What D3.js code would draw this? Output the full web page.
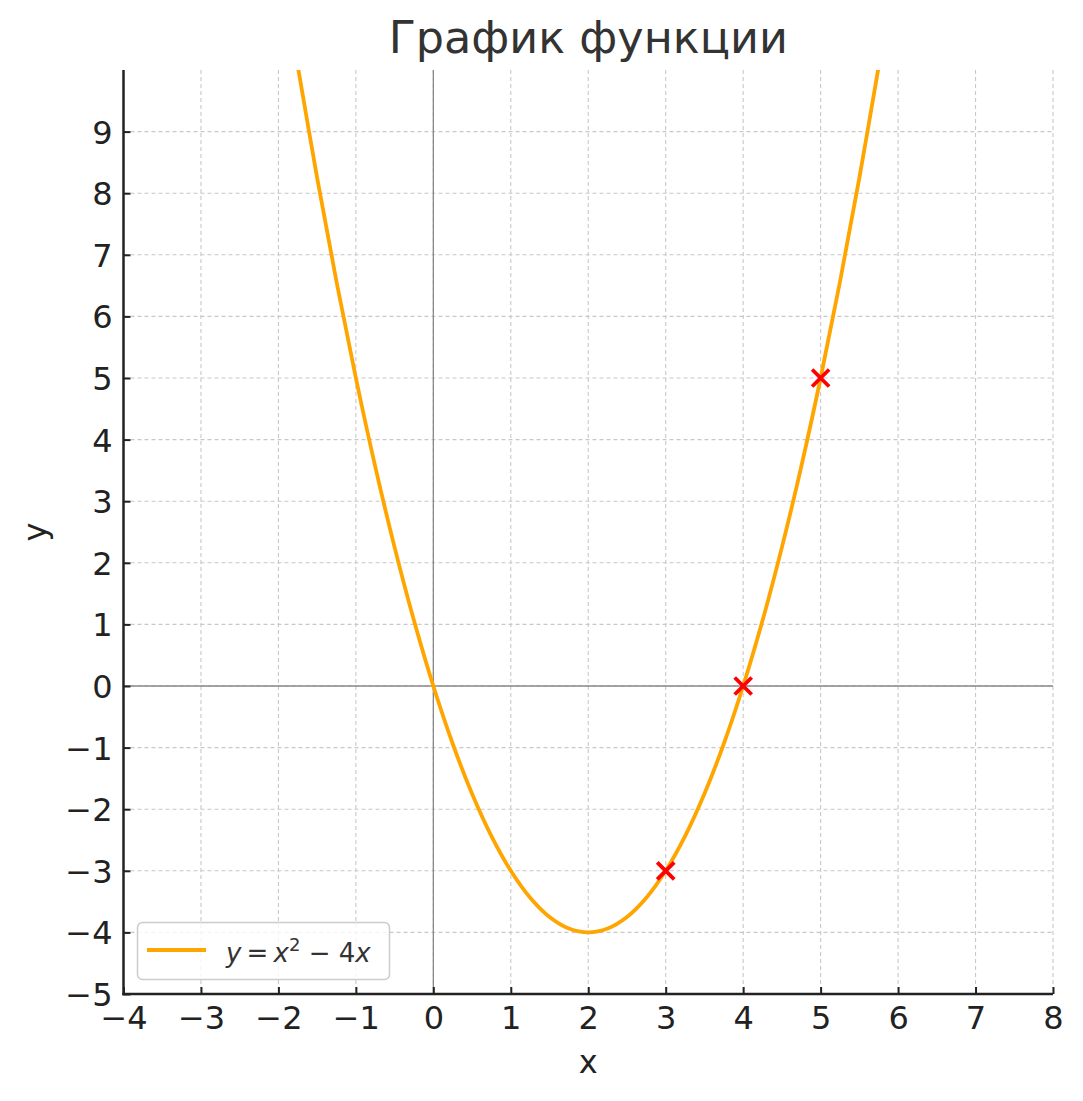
<!DOCTYPE html>
<html><head><meta charset="utf-8">
<script src="https://cdn.jsdelivr.net/npm/d3@7"></script>
<style>body{margin:0;background:#fff}svg{display:block}</style>
</head><body>
<svg id="c" width="1083" height="1101"></svg>
<script>
const title = "График функции";
const xLabel = "x", yLabel = "y";
const xTicks = [-4,-3,-2,-1,0,1,2,3,4,5,6,7,8];
const yTicks = [-5,-4,-3,-2,-1,0,1,2,3,4,5,6,7,8,9];
const xDomain = [-4, 8];
const yDomain = [-5, 10];
const curveX = [-1.75,-1.5,-1.25,-1,-0.75,-0.5,-0.25,0,0.25,0.5,0.75,1,1.25,1.5,1.75,2,2.25,2.5,2.75,3,3.25,3.5,3.75,4,4.25,4.5,4.75,5,5.25,5.5,5.75];
const curveY = [10.0625,8.25,6.5625,5,3.5625,2.25,1.0625,0,-0.9375,-1.75,-2.4375,-3,-3.4375,-3.75,-3.9375,-4,-3.9375,-3.75,-3.4375,-3,-2.4375,-1.75,-0.9375,0,1.0625,2.25,3.5625,5,6.5625,8.25,10.0625];
const pointX = [3, 4, 5];
const pointY = [-3, 0, 5];

const svg = d3.select("#c");
const L = 123.5, R = 1053, T = 70, B = 994;
const x = d3.scaleLinear().domain(xDomain).range([L, R]);
const y = d3.scaleLinear().domain(yDomain).range([B, T]);
const fmt = d => d < 0 ? "\u2212" + Math.abs(d) : String(d);

// grid
const g = svg.append("g");
g.selectAll(".gx").data(xTicks).join("line")
  .attr("x1", d => x(d)).attr("x2", d => x(d)).attr("y1", T).attr("y2", B)
  .attr("stroke", "#c8c8c8").attr("stroke-width", 1.1).attr("stroke-dasharray", "4,3");
g.selectAll(".gy").data(yTicks).join("line")
  .attr("y1", d => y(d)).attr("y2", d => y(d)).attr("x1", L).attr("x2", R)
  .attr("stroke", "#c8c8c8").attr("stroke-width", 1.1).attr("stroke-dasharray", "4,3");

// zero lines
svg.append("line").attr("x1", x(0)).attr("x2", x(0)).attr("y1", T).attr("y2", B)
  .attr("stroke", "#888").attr("stroke-width", 1.3);
svg.append("line").attr("y1", y(0)).attr("y2", y(0)).attr("x1", L).attr("x2", R)
  .attr("stroke", "#888").attr("stroke-width", 1.3);

// clip
svg.append("clipPath").attr("id", "clip").append("rect")
  .attr("x", L).attr("y", T).attr("width", R - L).attr("height", B - T);

const line = d3.line().x((d, i) => x(curveX[i])).y((d, i) => y(curveY[i])).curve(d3.curveCatmullRom);
svg.append("path").attr("clip-path", "url(#clip)").datum(curveX)
  .attr("d", line).attr("fill", "none").attr("stroke", "#FFA500").attr("stroke-width", 3.8);

// markers
const ms = 8.5;
const mk = svg.append("g").selectAll("g").data(pointX).join("g")
  .attr("transform", (d, i) => `translate(${x(d)},${y(pointY[i])})`);
mk.append("path").attr("d", `M${-ms},${-ms}L${ms},${ms}M${-ms},${ms}L${ms},${-ms}`)
  .attr("stroke", "#ff0000").attr("stroke-width", 3.8).attr("fill", "none");

// axes
const xAxis = d3.axisBottom(x).tickValues(xTicks).tickFormat(fmt).tickSizeInner(-7).tickSizeOuter(0).tickPadding(12);
const yAxis = d3.axisLeft(y).tickValues(yTicks).tickFormat(fmt).tickSizeInner(-7).tickSizeOuter(0).tickPadding(11);
const ax = svg.append("g").attr("transform", `translate(0,${B})`).call(xAxis);
const ay = svg.append("g").attr("transform", `translate(${L},0)`).call(yAxis);
[ax, ay].forEach(a => {
  a.select(".domain").remove();
  a.selectAll(".tick line").attr("stroke", "#222").attr("stroke-width", 2);
  a.selectAll(".tick text").attr("fill", "#222").style("font-family", "DejaVu Sans").style("font-size", "32px");
});
ax.selectAll(".tick text").attr("dy", "0.71em");
ay.selectAll(".tick text").attr("dy", "0.36em");
// spines
svg.append("line").attr("x1", L).attr("x2", L).attr("y1", T).attr("y2", B + 1.2).attr("stroke", "#222").attr("stroke-width", 2.5);
svg.append("line").attr("x1", L - 1.2).attr("x2", R).attr("y1", B).attr("y2", B).attr("stroke", "#222").attr("stroke-width", 2.5);

// labels
svg.append("text").attr("x", (L + R) / 2).attr("y", 53).attr("text-anchor", "middle")
  .attr("fill", "#333").style("font-family", "DejaVu Sans").style("font-size", "44.5px").text(title);
svg.append("text").attr("x", (L + R) / 2).attr("y", 1073).attr("text-anchor", "middle")
  .attr("fill", "#222").style("font-family", "DejaVu Sans").style("font-size", "32px").text(xLabel);
svg.append("text").attr("transform", `translate(46,${(T + B) / 2}) rotate(-90)`).attr("text-anchor", "middle")
  .attr("fill", "#222").style("font-family", "DejaVu Sans").style("font-size", "32px").text(yLabel);

// legend
const lg = svg.append("g");
lg.append("rect").attr("x", 137.5).attr("y", 922.5).attr("width", 252).attr("height", 57).attr("rx", 5)
  .attr("fill", "#fff").attr("fill-opacity", 0.8).attr("stroke", "#ccc").attr("stroke-width", 1.5);
lg.append("line").attr("x1", 147).attr("x2", 206).attr("y1", 950).attr("y2", 950)
  .attr("stroke", "#FFA500").attr("stroke-width", 3.8);
const lt = lg.append("text").attr("x", 226).attr("y", 961.5).attr("fill", "#333")
  .style("font-family", "DejaVu Sans").style("font-size", "26px");
lt.append("tspan").style("font-style", "italic").text("y");
lt.append("tspan").text("\u2009=\u2009");
lt.append("tspan").style("font-style", "italic").text("x");
lt.append("tspan").attr("dy", -11).style("font-size", "18px").text("2");
lt.append("tspan").attr("dy", 11).text(" − 4");
lt.append("tspan").style("font-style", "italic").text("x");
</script>
</body></html>
